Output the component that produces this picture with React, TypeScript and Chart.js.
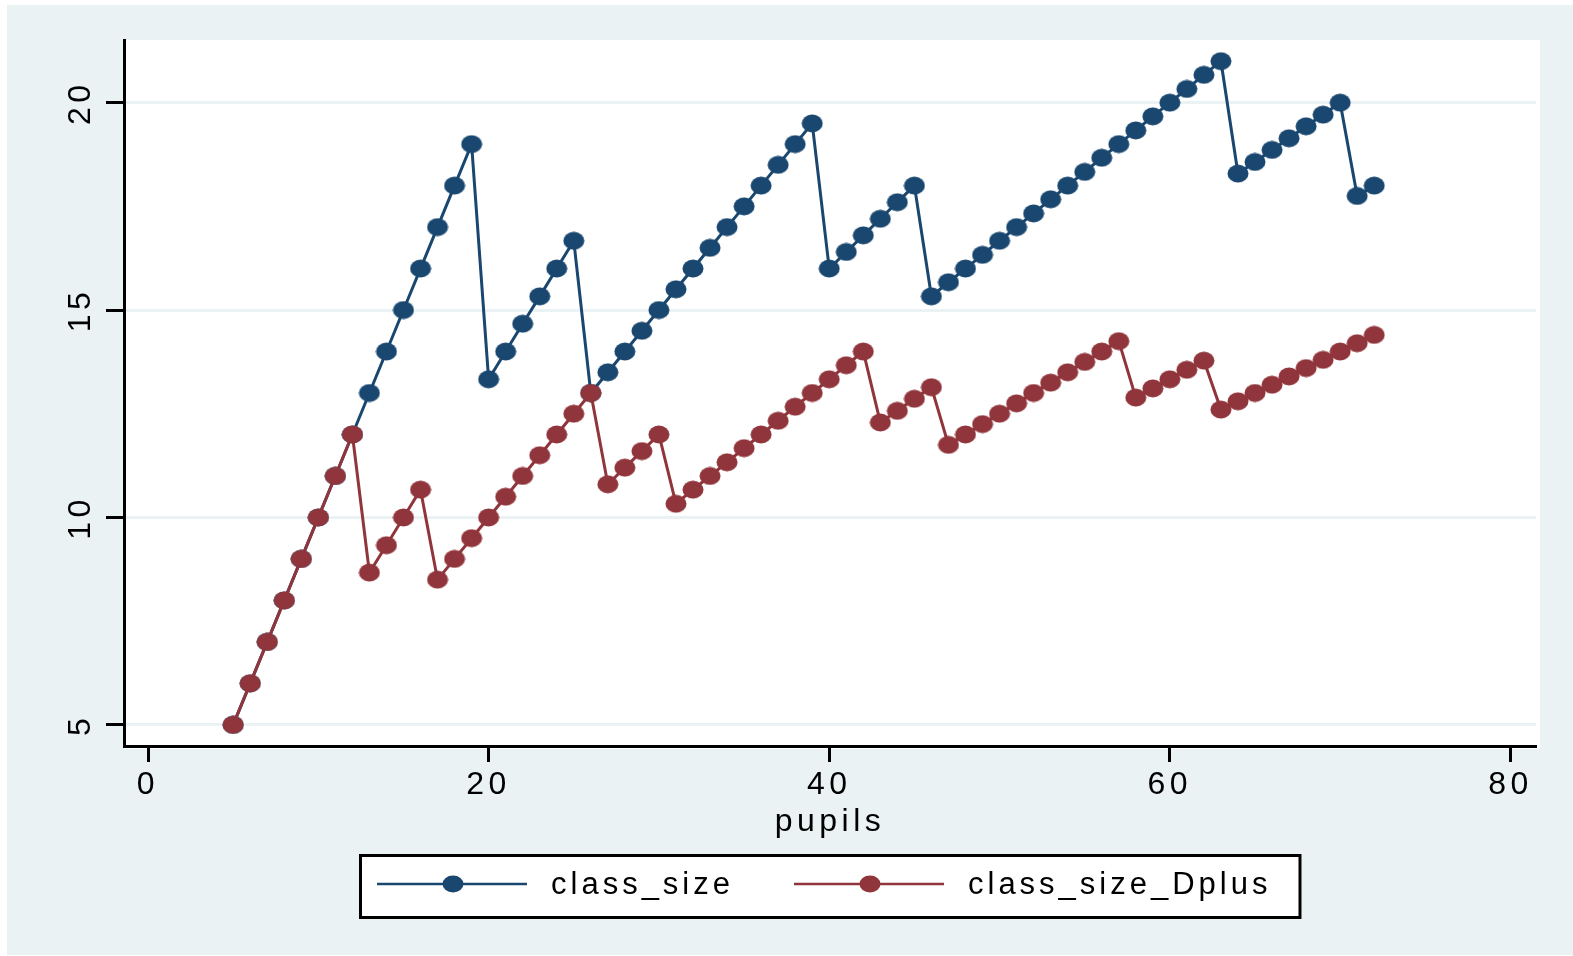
import React, { useEffect, useRef } from "react";
import { Chart, registerables } from "chart.js";

Chart.register(...registerables);

const pupils = [
  5, 6, 7, 8, 9, 10, 11, 12, 13, 14, 15, 16, 17, 18, 19, 20, 21, 22, 23, 24,
  25, 26, 27, 28, 29, 30, 31, 32, 33, 34, 35, 36, 37, 38, 39, 40, 41, 42, 43, 44,
  45, 46, 47, 48, 49, 50, 51, 52, 53, 54, 55, 56, 57, 58, 59, 60, 61, 62, 63, 64,
  65, 66, 67, 68, 69, 70, 71, 72,
];

const classSize = [
  5, 6, 7, 8, 9, 10, 11, 12, 13, 14, 15, 16, 17, 18, 19,
  13.33, 14, 14.67, 15.33, 16, 16.67,
  13, 13.5, 14, 14.5, 15, 15.5, 16, 16.5, 17, 17.5, 18, 18.5, 19, 19.5,
  16, 16.4, 16.8, 17.2, 17.6, 18,
  15.33, 15.67, 16, 16.33, 16.67, 17, 17.33, 17.67, 18, 18.33, 18.67, 19, 19.33, 19.67, 20, 20.33, 20.67, 21,
  18.29, 18.57, 18.86, 19.14, 19.43, 19.71, 20,
  17.75, 18,
];

const classSizeDplus = [
  5, 6, 7, 8, 9, 10, 11, 12,
  8.67, 9.33, 10, 10.67,
  8.5, 9, 9.5, 10, 10.5, 11, 11.5, 12, 12.5, 13,
  10.8, 11.2, 11.6, 12,
  10.33, 10.67, 11, 11.33, 11.67, 12, 12.33, 12.67, 13, 13.33, 13.67, 14,
  12.29, 12.57, 12.86, 13.14,
  11.75, 12, 12.25, 12.5, 12.75, 13, 13.25, 13.5, 13.75, 14, 14.25,
  12.89, 13.11, 13.33, 13.56, 13.78,
  12.6, 12.8, 13, 13.2, 13.4, 13.6, 13.8, 14, 14.2, 14.4,
];

const xTicks = [0, 20, 40, 60, 80];
const yTicks = [5, 10, 15, 20];
const seriesLabels = ["class_size", "class_size_Dplus"];
const xTitle = "pupils";

const BLUE = "#1A476F";
const RED = "#90353B";
const BG = "#EAF2F3";
const FONT = '"Liberation Sans", Arial, sans-serif';
const AXIS_SPACING = "4.5px";
const LEGEND_SPACING = "4px";

function ellipseCanvas(color: string, w: number, h: number) {
  const c = document.createElement("canvas");
  c.width = w;
  c.height = h;
  const g = c.getContext("2d")!;
  g.fillStyle = color;
  g.beginPath();
  g.ellipse(w / 2, h / 2, w / 2 - 0.5, h / 2 - 0.5, 0, 0, Math.PI * 2);
  g.fill();
  return c;
}

const spacingPlugin = {
  id: "spacingBg",
  beforeUpdate(chart: any) {
    (chart.ctx as any).letterSpacing = AXIS_SPACING;
  },
  beforeDraw(chart: any) {
    const { ctx, chartArea } = chart;
    (ctx as any).letterSpacing = AXIS_SPACING;
    ctx.save();
    ctx.fillStyle = BG;
    ctx.fillRect(0, 0, chart.width, chart.height);
    ctx.fillStyle = "#FFFFFF";
    ctx.fillRect(
      chartArea.left,
      chartArea.top,
      chartArea.right - chartArea.left + 4,
      chartArea.bottom - chartArea.top + 3
    );
    ctx.restore();
  },
};

const legendPlugin = {
  id: "stataLegend",
  afterDraw(chart: any) {
    const { ctx, chartArea } = chart;
    ctx.save();
    (ctx as any).letterSpacing = LEGEND_SPACING;
    ctx.font = `31px ${FONT}`;
    const items = chart.data.datasets.map((ds: any) => ({
      label: ds.label as string,
      color: ds.borderColor as string,
    }));
    const padL = 18, lineW = 150, gapT = 24, gapItem = 60, padR = 30;
    const widths = items.map((it: any) => ctx.measureText(it.label).width);
    let total = padL + padR + gapItem * (items.length - 1);
    widths.forEach((w: number) => (total += lineW + gapT + w));
    const boxH = 65;
    const boxX = Math.round((chartArea.left + chartArea.right) / 2 - total / 2);
    const boxY = chartArea.bottom + 108;
    ctx.fillStyle = "#FFFFFF";
    ctx.fillRect(boxX, boxY, total, boxH);
    ctx.strokeStyle = "#000000";
    ctx.lineWidth = 3;
    ctx.strokeRect(boxX + 1.5, boxY + 1.5, total - 3, boxH - 3);
    const cy = boxY + 30;
    let x = boxX + padL;
    items.forEach((it: any, i: number) => {
      ctx.strokeStyle = it.color;
      ctx.lineWidth = 2.5;
      ctx.beginPath();
      ctx.moveTo(x, cy);
      ctx.lineTo(x + lineW, cy);
      ctx.stroke();
      ctx.fillStyle = it.color;
      ctx.beginPath();
      ctx.ellipse(x + 76, cy, 10.5, 8.5, 0, 0, Math.PI * 2);
      ctx.fill();
      ctx.fillStyle = "#000000";
      ctx.textBaseline = "middle";
      ctx.textAlign = "left";
      ctx.fillText(it.label, x + lineW + gapT, cy + 1);
      x += lineW + gapT + widths[i] + gapItem;
    });
    ctx.restore();
  },
};

export default function App() {
  const ref = useRef<HTMLCanvasElement | null>(null);

  useEffect(() => {
    if (!ref.current) return;
    const blueMarker = ellipseCanvas(BLUE, 22, 19);
    const redMarker = ellipseCanvas(RED, 22, 19);
    const chart = new Chart(ref.current, {
      type: "line",
      data: {
        datasets: [
          {
            label: seriesLabels[0],
            data: pupils.map((p, i) => ({ x: p, y: classSize[i] })),
            borderColor: BLUE,
            backgroundColor: BLUE,
            borderWidth: 3,
            pointStyle: blueMarker as any,
            pointRadius: 10,
            order: 1,
            tension: 0,
          },
          {
            label: seriesLabels[1],
            data: pupils.map((p, i) => ({ x: p, y: classSizeDplus[i] })),
            borderColor: RED,
            backgroundColor: RED,
            borderWidth: 3,
            pointStyle: redMarker as any,
            pointRadius: 10,
            order: 0,
            tension: 0,
          },
        ],
      },
      options: {
        animation: false,
        responsive: false,
        devicePixelRatio: 1,
        layout: { padding: { top: 35, left: 0, right: 37, bottom: 100 } },
        plugins: {
          legend: { display: false },
          tooltip: { enabled: false },
        },
        scales: {
          x: {
            type: "linear",
            min: -1.41,
            max: 81.5,
            afterBuildTicks: (s: any) => {
              s.ticks = xTicks.map((v) => ({ value: v }));
            },
            afterFit: (s: any) => {
              s.height = 109;
            },
            grid: {
              drawOnChartArea: false,
              drawTicks: true,
              tickLength: 16,
              tickColor: "#000000",
              tickWidth: 3,
            },
            border: { display: true, color: "#000000", width: 3 },
            ticks: {
              color: "#000000",
              font: { family: FONT, size: 32 },
              padding: 4,
              maxRotation: 0,
              autoSkip: false,
            },
            title: {
              display: true,
              text: xTitle,
              color: "#000000",
              font: { family: FONT, size: 32 },
              padding: { top: 0, bottom: 14 },
            },
          },
          y: {
            type: "linear",
            min: 4.49,
            max: 21.51,
            afterBuildTicks: (s: any) => {
              s.ticks = yTicks.map((v) => ({ value: v }));
            },
            afterFit: (s: any) => {
              s.width = 117;
            },
            grid: {
              color: BG,
              lineWidth: 3,
              drawTicks: true,
              tickLength: 18,
              tickColor: "#000000",
              tickWidth: 3,
            },
            border: { display: true, color: "#000000", width: 3 },
            ticks: {
              color: "#000000",
              font: { family: FONT, size: 32 },
              padding: 3,
              minRotation: 90,
              maxRotation: 90,
              crossAlign: "center",
              autoSkip: false,
            },
          },
        },
      } as any,
      plugins: [spacingPlugin, legendPlugin],
    });
    return () => chart.destroy();
  }, []);

  return (
    <div style={{ position: "absolute", left: 7, top: 5, width: 1566, height: 950 }}>
      <canvas ref={ref} width={1566} height={950} style={{ width: 1566, height: 950, display: "block" }} />
    </div>
  );
}
